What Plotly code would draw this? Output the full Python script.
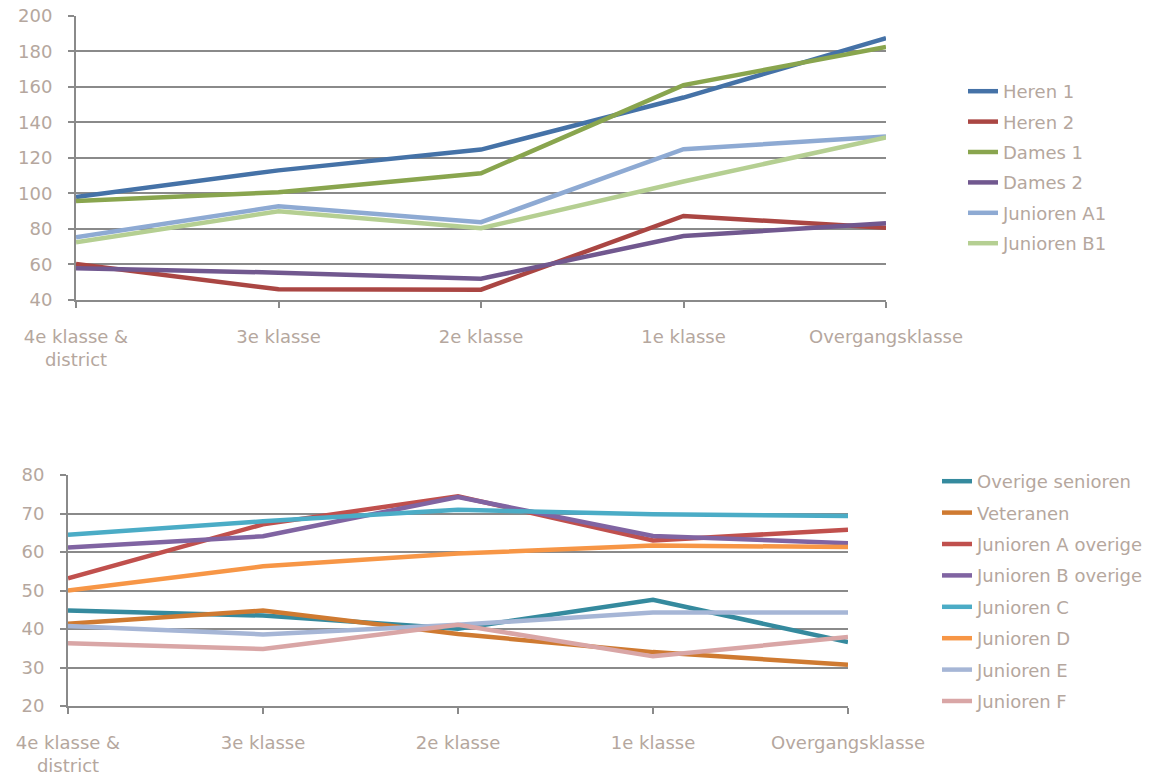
import plotly.graph_objects as go

categories = ["4e klasse &<br>district", "3e klasse", "2e klasse", "1e klasse", "Overgangsklasse"]

# Top chart series
heren_1 = [98, 113, 124.7, 154, 187.5]
heren_2 = [60.3, 46, 45.8, 87.3, 80.7]
dames_1 = [95.8, 100.7, 111.4, 161, 182.5]
dames_2 = [57.9, 55.4, 52, 76, 83.2]
junioren_a1 = [75.3, 92.8, 83.8, 124.9, 132]
junioren_b1 = [72.5, 90, 80.4, 106.7, 131.6]

# Bottom chart series
overige_senioren = [44.8, 43.5, 40.1, 47.6, 36.6]
veteranen = [41.4, 44.8, 38.7, 34, 30.7]
junioren_a_overige = [53.2, 67.2, 74.5, 63, 65.8]
junioren_b_overige = [61.2, 64.1, 74.3, 64.2, 62.3]
junioren_c = [64.5, 68, 71, 69.8, 69.4]
junioren_d = [50, 56.3, 59.6, 61.7, 61.3]
junioren_e = [40.8, 38.6, 41.1, 44.3, 44.3]
junioren_f = [36.3, 34.8, 41.1, 32.9, 37.9]

top_ticks = [40, 60, 80, 100, 120, 140, 160, 180, 200]
bottom_ticks = [20, 30, 40, 50, 60, 70, 80]

top_series = [
    ("Heren 1", heren_1, "#4572a7"),
    ("Heren 2", heren_2, "#aa4643"),
    ("Dames 1", dames_1, "#89a54e"),
    ("Dames 2", dames_2, "#71588f"),
    ("Junioren A1", junioren_a1, "#8eaad3"),
    ("Junioren B1", junioren_b1, "#b5cf92"),
]
bottom_series = [
    ("Overige senioren", overige_senioren, "#358a9e"),
    ("Veteranen", veteranen, "#cf7a31"),
    ("Junioren A overige", junioren_a_overige, "#c0504d"),
    ("Junioren B overige", junioren_b_overige, "#8064a2"),
    ("Junioren C", junioren_c, "#4bacc6"),
    ("Junioren D", junioren_d, "#f79646"),
    ("Junioren E", junioren_e, "#a6b6d6"),
    ("Junioren F", junioren_f, "#d9a6a6"),
]

W, H = 1162, 775
OFF = 8  # page body margin offset
FONT = "DejaVu Sans"
FS = 18
TXT = "#b5a79e"
GRID = "#8a8a8a"

fig = go.Figure()
xs = list(range(len(categories)))
for name, vals, col in top_series:
    fig.add_trace(go.Scatter(x=xs, y=vals, mode="lines", name=name,
                             line=dict(color=col, width=4.5), xaxis="x", yaxis="y",
                             legend="legend", legendgroup=name))
for name, vals, col in bottom_series:
    fig.add_trace(go.Scatter(x=xs, y=vals, mode="lines", name=name,
                             line=dict(color=col, width=4.5), xaxis="x2", yaxis="y2",
                             legend="legend2", legendgroup=name))

def px_x(p):
    return (p - OFF) / W

def px_y(p):
    return 1 - (p - OFF) / H

axis_common = dict(
    showline=True, linecolor=GRID, linewidth=2,
    ticks="outside", ticklen=6, tickcolor=GRID, tickwidth=2,
    tickfont=dict(family=FONT, size=FS, color=TXT),
    zeroline=False, fixedrange=True, automargin=False,
    ticklabeloverflow="allow",
)

xcommon = dict(axis_common, tickmode="array", tickvals=xs, ticktext=categories,
               range=[0, 4], showgrid=False, ticklabelstandoff=13)
ycommon = dict(axis_common, showgrid=True, gridcolor=GRID, gridwidth=2,
               ticklabelstandoff=12, tickmode="array")

fig.update_layout(
    width=W, height=H,
    margin=dict(l=0, r=0, t=0, b=0, autoexpand=False),
    paper_bgcolor="white", plot_bgcolor="white",
    font=dict(family=FONT, size=FS, color=TXT),
    xaxis=dict(xcommon, domain=[px_x(76), px_x(886)], anchor="y"),
    yaxis=dict(ycommon, domain=[px_y(300), px_y(15.5)], anchor="x",
               range=[40, 200.2], tickvals=top_ticks),
    xaxis2=dict(xcommon, domain=[px_x(68), px_x(848)], anchor="y2"),
    yaxis2=dict(ycommon, domain=[px_y(706), px_y(474.7)], anchor="x2",
                range=[20, 80.1], tickvals=bottom_ticks),
    legend=dict(x=px_x(963), y=px_y(73), xanchor="left", yanchor="top",
                font=dict(family=FONT, size=FS, color=TXT),
                tracegroupgap=4, bgcolor="rgba(0,0,0,0)"),
    legend2=dict(x=px_x(937), y=px_y(463), xanchor="left", yanchor="top",
                 font=dict(family=FONT, size=FS, color=TXT),
                 tracegroupgap=5, bgcolor="rgba(0,0,0,0)"),
    showlegend=True,
)

fig.write_html("out.html")
